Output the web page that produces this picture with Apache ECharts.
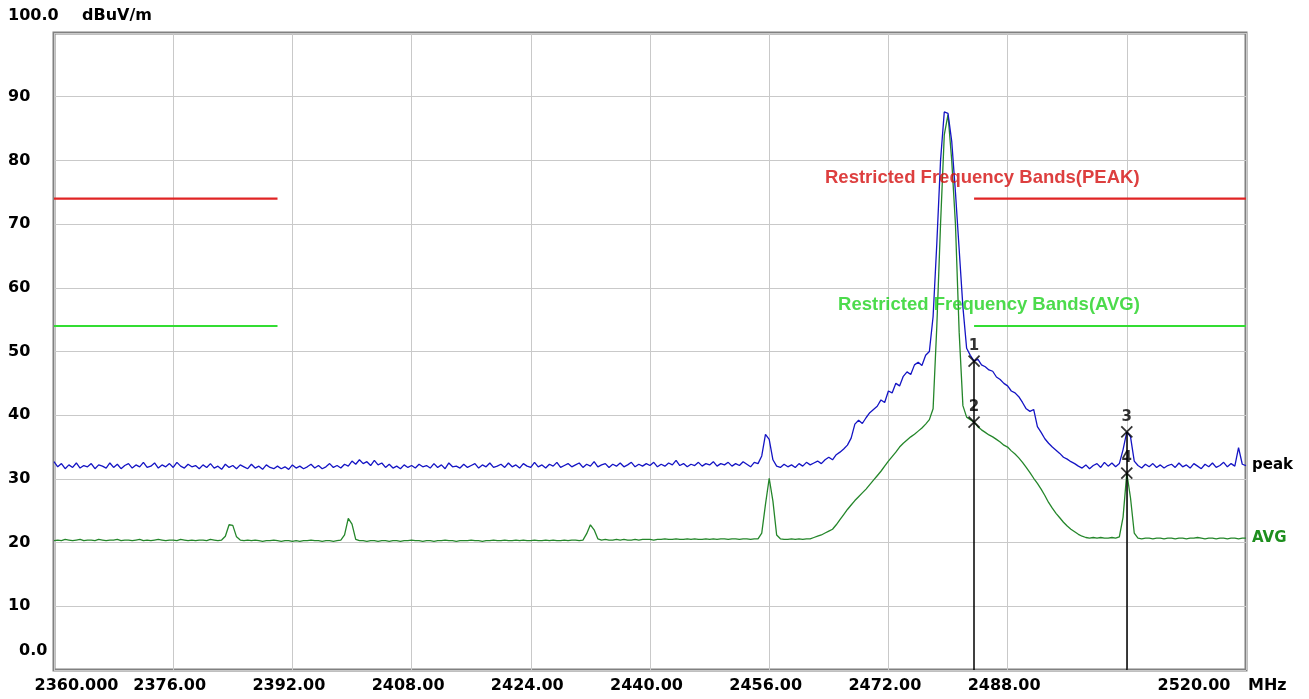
<!DOCTYPE html>
<html>
<head>
<meta charset="utf-8">
<script src="https://cdn.jsdelivr.net/npm/echarts@6/dist/echarts.min.js"></script>
<style>
  html, body { margin: 0; padding: 0; background: #ffffff; }
  #chart { width: 1309px; height: 699px; }
</style>
</head>
<body>
<div id="chart"></div>
<script>
// Sweep grid: 2360 MHz to 2520 MHz in 0.5 MHz steps (321 points per trace)
const freqStart = 2360;
const freqStep = 0.5;

// Peak detector trace, dBuV/m
const peakLevel = [
  32.7,31.9,32.4,31.6,32.2,31.8,32.5,31.7,32.1,31.9,32.4,31.6,32.2,32.0,31.7,32.5,31.8,32.3,31.6,32.1,
  32.4,31.7,32.2,31.9,32.6,31.8,32.0,32.5,31.7,32.2,31.9,32.4,31.8,32.6,32.0,31.7,32.3,31.9,32.1,31.6,
  32.2,31.8,32.4,31.7,32.0,31.5,32.3,31.8,32.1,31.6,32.2,31.9,31.6,32.3,31.7,32.0,31.5,32.2,31.8,31.6,
  32.0,31.6,31.9,31.5,32.2,31.7,32.0,31.6,31.9,32.3,31.7,32.1,31.6,31.9,32.4,31.8,32.1,31.7,32.3,32.0,
  32.8,32.3,33.0,32.4,32.7,32.1,32.9,32.2,32.5,31.8,32.3,31.7,32.0,31.6,32.2,31.8,32.1,31.7,32.3,31.9,
  32.1,31.7,32.4,31.8,32.2,31.6,32.5,31.9,32.0,31.7,32.3,31.8,32.1,32.4,31.7,32.2,31.9,32.5,31.8,32.0,
  32.3,31.8,32.5,31.9,32.2,31.7,32.4,32.0,31.8,32.6,31.9,32.2,31.7,32.3,32.0,32.6,31.8,32.1,32.4,31.9,
  32.2,32.5,31.8,32.3,32.0,32.7,31.9,32.2,32.4,31.8,32.3,32.0,32.5,31.9,32.2,32.6,31.9,32.3,32.0,32.4,
  32.1,32.6,31.9,32.3,32.0,32.5,32.2,32.9,32.1,32.4,31.9,32.3,32.1,32.6,32.0,32.4,32.2,32.7,32.0,32.4,
  32.2,32.6,32.0,32.4,32.1,32.7,32.3,31.9,32.6,32.4,33.6,37.0,36.2,33.0,32.0,31.8,32.3,31.9,32.2,31.8,
  32.4,32.0,32.6,32.2,32.5,32.8,32.4,33.0,33.4,33.0,33.8,34.2,34.7,35.3,36.4,38.6,39.2,38.7,39.6,40.4,
  40.9,41.4,42.4,42.0,43.8,43.5,45.0,44.6,46.1,46.8,46.4,47.9,48.3,47.8,49.4,50.0,55.5,67.0,80.0,87.6,
  87.4,83.0,75.0,66.0,57.0,50.5,49.4,48.5,48.8,47.9,47.6,47.1,46.9,46.0,45.6,45.0,44.6,43.8,43.5,42.9,
  42.0,41.0,40.6,40.9,38.2,37.3,36.3,35.6,35.0,34.5,34.0,33.4,33.1,32.7,32.4,32.0,31.7,32.2,31.6,32.1,
  32.4,31.8,32.6,32.0,32.5,31.9,32.4,34.6,37.4,36.6,32.8,32.1,31.7,32.3,31.9,32.4,31.8,32.2,31.7,32.1,
  32.3,31.8,32.5,31.9,32.2,31.7,32.4,32.0,31.6,32.3,31.9,32.5,31.8,32.1,32.6,31.9,32.4,32.0,34.9,32.3,
  32.1
];

// Average detector trace, dBuV/m
const avgLevel = [
  20.3,20.4,20.3,20.5,20.4,20.3,20.4,20.5,20.3,20.4,20.4,20.3,20.5,20.4,20.3,20.4,20.4,20.5,20.3,20.4,
  20.4,20.3,20.4,20.5,20.3,20.4,20.3,20.4,20.5,20.4,20.3,20.4,20.4,20.3,20.5,20.4,20.3,20.4,20.3,20.4,
  20.4,20.3,20.5,20.4,20.3,20.4,21.0,22.8,22.7,20.9,20.4,20.3,20.4,20.3,20.4,20.3,20.2,20.3,20.3,20.4,
  20.3,20.2,20.3,20.3,20.2,20.3,20.2,20.3,20.3,20.4,20.3,20.3,20.2,20.3,20.3,20.2,20.3,20.4,21.2,23.8,
  22.9,20.5,20.3,20.3,20.2,20.3,20.3,20.2,20.3,20.3,20.2,20.3,20.3,20.2,20.3,20.3,20.4,20.3,20.3,20.2,
  20.3,20.3,20.2,20.3,20.3,20.4,20.3,20.3,20.2,20.3,20.3,20.3,20.4,20.3,20.3,20.2,20.3,20.3,20.4,20.3,
  20.3,20.4,20.3,20.3,20.4,20.3,20.4,20.3,20.3,20.4,20.3,20.3,20.4,20.3,20.4,20.3,20.3,20.4,20.3,20.4,
  20.4,20.3,20.4,21.4,22.8,22.0,20.6,20.4,20.5,20.4,20.4,20.5,20.4,20.5,20.4,20.4,20.5,20.4,20.5,20.5,
  20.5,20.4,20.5,20.5,20.6,20.5,20.5,20.6,20.5,20.5,20.6,20.5,20.6,20.5,20.5,20.6,20.5,20.6,20.5,20.6,
  20.6,20.5,20.6,20.6,20.5,20.6,20.6,20.5,20.6,20.6,21.5,26.0,30.1,26.5,21.2,20.6,20.5,20.5,20.6,20.5,
  20.6,20.5,20.6,20.6,20.8,21.0,21.2,21.5,21.8,22.1,22.8,23.6,24.4,25.2,25.9,26.6,27.2,27.8,28.4,29.1,
  29.8,30.5,31.2,32.0,32.8,33.5,34.2,35.0,35.6,36.1,36.6,37.0,37.5,38.0,38.6,39.3,41.0,54.0,70.0,84.0,
  87.2,80.0,70.0,53.0,41.5,39.7,39.3,38.9,38.2,37.7,37.3,36.9,36.6,36.2,35.8,35.3,35.0,34.4,33.9,33.3,
  32.6,31.8,31.0,30.1,29.3,28.4,27.4,26.3,25.4,24.6,23.9,23.2,22.6,22.1,21.7,21.3,21.0,20.8,20.7,20.8,
  20.7,20.8,20.7,20.7,20.8,20.7,20.9,24.0,30.9,27.0,21.5,20.7,20.6,20.7,20.7,20.6,20.7,20.7,20.6,20.7,
  20.7,20.6,20.7,20.7,20.6,20.7,20.7,20.8,20.7,20.6,20.7,20.7,20.6,20.7,20.7,20.6,20.7,20.7,20.6,20.7,
  20.7
];

// Axis ticks and their printed labels
const xTicks = [2360, 2376, 2392, 2408, 2424, 2440, 2456, 2472, 2488, 2504, 2520];
const xTickLabels = ['2360.000', '2376.00', '2392.00', '2408.00', '2424.00', '2440.00', '2456.00', '2472.00', '2488.00', '', '2520.00'];
const yTicks = [0, 10, 20, 30, 40, 50, 60, 70, 80, 90, 100];
const yTickLabels = ['0.0', '10', '20', '30', '40', '50', '60', '70', '80', '90', '100.0'];
const yUnit = 'dBuV/m';
const xUnit = 'MHz';

// Restricted-band limits (dBuV/m) and the frequency spans they apply to
const peakLimit = 74;
const avgLimit = 54;
const bandSpans = [[2360, 2390], [2483.5, 2520]];
const limitCaptions = ['Restricted Frequency Bands(PEAK)', 'Restricted Frequency Bands(AVG)'];
const limitCaptionAt = [[2484.6, 77.2], [2485.5, 57.3]];
const limitCaptionColors = ['#d40f0f', '#1fd21f'];

// Markers: label, frequency, trace it sits on
const markerNames = ['1', '2', '3', '4'];
const markerFreqs = [2483.5, 2483.5, 2504, 2504];
const markerTraces = ['peak', 'avg', 'peak', 'avg'];

const FONT = 'DejaVu Sans';
const toPairs = arr => arr.map((v, i) => [freqStart + i * freqStep, v]);
const levelAt = (arr, f) => arr[Math.round((f - freqStart) / freqStep)];
const traceOf = name => (name === 'peak' ? peakLevel : avgLevel);

const markerData = markerNames.map((n, i) => [markerFreqs[i], levelAt(traceOf(markerTraces[i]), markerFreqs[i]), n]);

// Each marker frequency gets one drop line from its highest marker to the axis
const dropLines = [];
[...new Set(markerFreqs)].forEach(f => {
  const top = Math.max(...markerData.filter(d => d[0] === f).map(d => d[1]));
  dropLines.push([{ coord: [f, top] }, { coord: [f, 0] }]);
});

const limitSeries = [];
bandSpans.forEach(span => {
  limitSeries.push({
    type: 'line', data: span.map(f => [f, peakLimit]), showSymbol: false, silent: true,
    lineStyle: { color: '#e02424', width: 2.2 }, z: 2
  });
  limitSeries.push({
    type: 'line', data: span.map(f => [f, avgLimit]), showSymbol: false, silent: true,
    lineStyle: { color: '#33dd33', width: 2.2 }, z: 2
  });
});

const captionData = limitCaptions.map((t, i) => ({
  value: [limitCaptionAt[i][0], limitCaptionAt[i][1]],
  name: t,
  label: { color: limitCaptionColors[i] }
}));

const chart = echarts.init(document.getElementById('chart'), null, { renderer: 'canvas' });

const option = {
  animation: false,
  backgroundColor: '#ffffff',
  grid: {
    left: 54, right: 63, top: 33, bottom: 29,
    show: true, borderColor: '#808080', borderWidth: 3, backgroundColor: 'transparent'
  },
  xAxis: {
    type: 'value', min: 2360, max: 2520, interval: 16,
    axisLine: { show: false }, axisTick: { show: false },
    splitLine: { show: true, lineStyle: { color: '#c9c9c9', width: 1 } },
    axisLabel: {
      margin: 8, showMinLabel: true, showMaxLabel: true,
      color: '#000', fontFamily: FONT, fontWeight: 'bold', fontSize: 16,
      formatter: v => {
        const i = xTicks.indexOf(Math.round(v));
        if (i < 0 || !xTickLabels[i]) return '';
        if (i === 0) return '{f|' + xTickLabels[i] + '}';
        if (i === xTicks.length - 1) return '{l|' + xTickLabels[i] + '}';
        return '{n|' + xTickLabels[i] + '}';
      },
      rich: {
        f: { fontFamily: FONT, fontWeight: 'bold', fontSize: 16, color: '#000', padding: [0, 0, 0, 45] },
        n: { fontFamily: FONT, fontWeight: 'bold', fontSize: 16, color: '#000', padding: [0, 7, 0, 0] },
        l: { fontFamily: FONT, fontWeight: 'bold', fontSize: 16, color: '#000', padding: [0, 104, 0, 0] }
      }
    }
  },
  yAxis: {
    type: 'value', min: 0, max: 100, interval: 10,
    axisLine: { show: false }, axisTick: { show: false },
    splitLine: { show: true, lineStyle: { color: '#c9c9c9', width: 1 } },
    axisLabel: {
      align: 'left', margin: 46, padding: [0, 0, 6, 0],
      color: '#000', fontFamily: FONT, fontWeight: 'bold', fontSize: 16,
      formatter: v => {
        const i = yTicks.indexOf(Math.round(v));
        if (i <= 0 || i === yTicks.length - 1) return '';
        return yTickLabels[i];
      }
    }
  },
  graphic: [
    { type: 'text', left: 8, top: 8, style: { text: yTickLabels[yTickLabels.length - 1], font: 'bold 16px "DejaVu Sans"', fill: '#000' } },
    { type: 'text', left: 82, top: 8, style: { text: yUnit, font: 'bold 16px "DejaVu Sans"', fill: '#000' } },
    { type: 'text', left: 19, top: 643, style: { text: yTickLabels[0], font: 'bold 16px "DejaVu Sans"', fill: '#000' } },
    { type: 'text', left: 1248, top: 678, style: { text: xUnit, font: 'bold 16px "DejaVu Sans"', fill: '#000' } }
  ],
  series: [
    ...limitSeries,
    {
      name: 'AVG', type: 'line', data: toPairs(avgLevel), showSymbol: false, silent: true,
      lineStyle: { color: '#24862a', width: 1.3 }, z: 3,
      endLabel: {
        show: true, formatter: 'AVG', distance: 6,
        color: '#1e8e1e', fontFamily: FONT, fontWeight: 'bold', fontSize: 15
      }
    },
    {
      name: 'peak', type: 'line', data: toPairs(peakLevel), showSymbol: false, silent: true,
      lineStyle: { color: '#1414c4', width: 1.3 }, z: 4,
      endLabel: {
        show: true, formatter: 'peak', distance: 6,
        color: '#000', fontFamily: FONT, fontWeight: 'bold', fontSize: 15
      }
    },
    {
      // captions of the restricted-band limit lines
      type: 'scatter', silent: true, z: 6,
      data: captionData,
      symbolSize: 0,
      itemStyle: { color: 'transparent' },
      label: {
        show: true, position: 'inside',
        formatter: p => p.name,
        fontFamily: 'Liberation Sans', fontWeight: 'bold', fontSize: 18.5
      }
    },
    {
      type: 'scatter', silent: true, z: 7,
      data: markerData,
      symbol: 'path://M0,0L10,10M10,0L0,10',
      symbolSize: 11,
      itemStyle: { color: 'transparent', borderColor: '#000', borderWidth: 1.8 },
      label: {
        show: true, position: 'top', distance: 1,
        formatter: p => p.data[2],
        color: '#000', fontFamily: FONT, fontWeight: 'bold', fontSize: 15
      },
      markLine: {
        silent: true, symbol: ['none', 'none'], animation: false,
        lineStyle: { color: '#000', width: 1.5, type: 'solid' },
        label: { show: false },
        data: dropLines
      }
    }
  ]
};

chart.setOption(option);
</script>
</body>
</html>
